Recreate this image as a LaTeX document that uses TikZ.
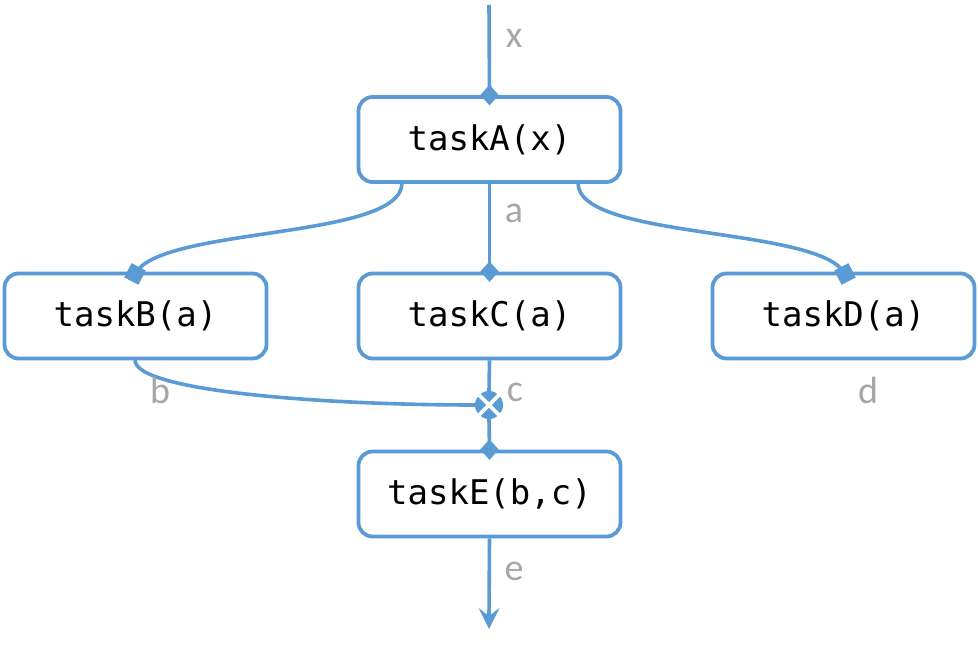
\documentclass[tikz,border=0pt]{standalone}
\usepackage{fontspec}
\setmainfont{Carlito}
\newfontfamily\codefont{DejaVu Sans Mono}
\usetikzlibrary{arrows.meta,calc,shapes.geometric}
\definecolor{flowblue}{HTML}{5B9BD5}
\definecolor{labelgray}{HTML}{A6A6A6}
\tikzset{
  taskbox/.style={draw=flowblue, line width=3.8pt, rounded corners=14pt, minimum width=262pt, minimum height=85pt, inner sep=0pt, font=\codefont\fontsize{34}{34}\selectfont, text=black},
  flow/.style={draw=flowblue, line width=3.6pt},
  diamondmark/.style={diamond, fill=flowblue, minimum width=20pt, minimum height=22pt, inner sep=0pt},
  squaremark/.style={rectangle, fill=flowblue, minimum width=16pt, minimum height=16pt, inner sep=0pt},
  varlabel/.style={text=labelgray, font=\fontsize{38}{38}\selectfont, inner sep=0pt}
}
\begin{document}
\begin{tikzpicture}[x=1pt,y=-1pt]
\useasboundingbox (0,0) rectangle (978,650);
\node[taskbox] (A) at (489.5,139.5) {taskA(x)};
\node[taskbox] (B) at (135.5,316) {taskB(a)};
\node[taskbox] (C) at (489.5,316) {taskC(a)};
\node[taskbox] (D) at (843.5,316) {taskD(a)};
\node[taskbox] (E) at (489.5,494) {taskE(b,c)};
\node[circle, fill=flowblue, minimum size=28pt, inner sep=0pt] (J) at (489,405) {};
\draw[white, line width=3.8pt] ($(J.center)+(-10,-10)$) -- ($(J.center)+(10,10)$);
\draw[white, line width=3.8pt] ($(J.center)+(-10,10)$) -- ($(J.center)+(10,-10)$);
\coordinate (top) at (489,5);
\coordinate (bot) at (489,629);
\coordinate (Aleft) at (402,183);
\coordinate (Aright) at (578,183);
\coordinate (Bin) at (135,274);
\coordinate (Din) at (845,274);
\coordinate (Bout) at (135,360);
% connectors
\draw[flow] (top) -- (A.north) node[diamondmark, pos=1] {};
\draw[flow] (A.south) -- (C.north) node[diamondmark, pos=1] {};
\draw[flow] (Aleft) .. controls (402,240) and (160,226) .. (Bin) node[squaremark, pos=1, sloped] {};
\draw[flow] (Aright) .. controls (578,240) and (820,226) .. (Din) node[squaremark, pos=1, sloped] {};
\draw[flow] (Bout) .. controls (135,392) and (330,405) .. (J.west);
\draw[flow] (C.south) -- (J.north);
\draw[flow] (J.south) -- (E.north) node[diamondmark, pos=1] {};
\draw[flow] (E.south) -- ($(bot)+(0,-12)$);
\fill[flowblue] (bot) -- ++(-10.5,-21) -- ++(10.5,8) -- ++(10.5,-8) -- cycle;
% labels
\node[varlabel] (lx) at (514,38) {x};
\node[varlabel] (la) at (514,213) {a};
\node[varlabel] (lb) at (160,390) {b};
\node[varlabel] (lc) at (515,392) {c};
\node[varlabel] (ld) at (868,390) {d};
\node[varlabel] (le) at (514,571) {e};
\end{tikzpicture}
\end{document}
